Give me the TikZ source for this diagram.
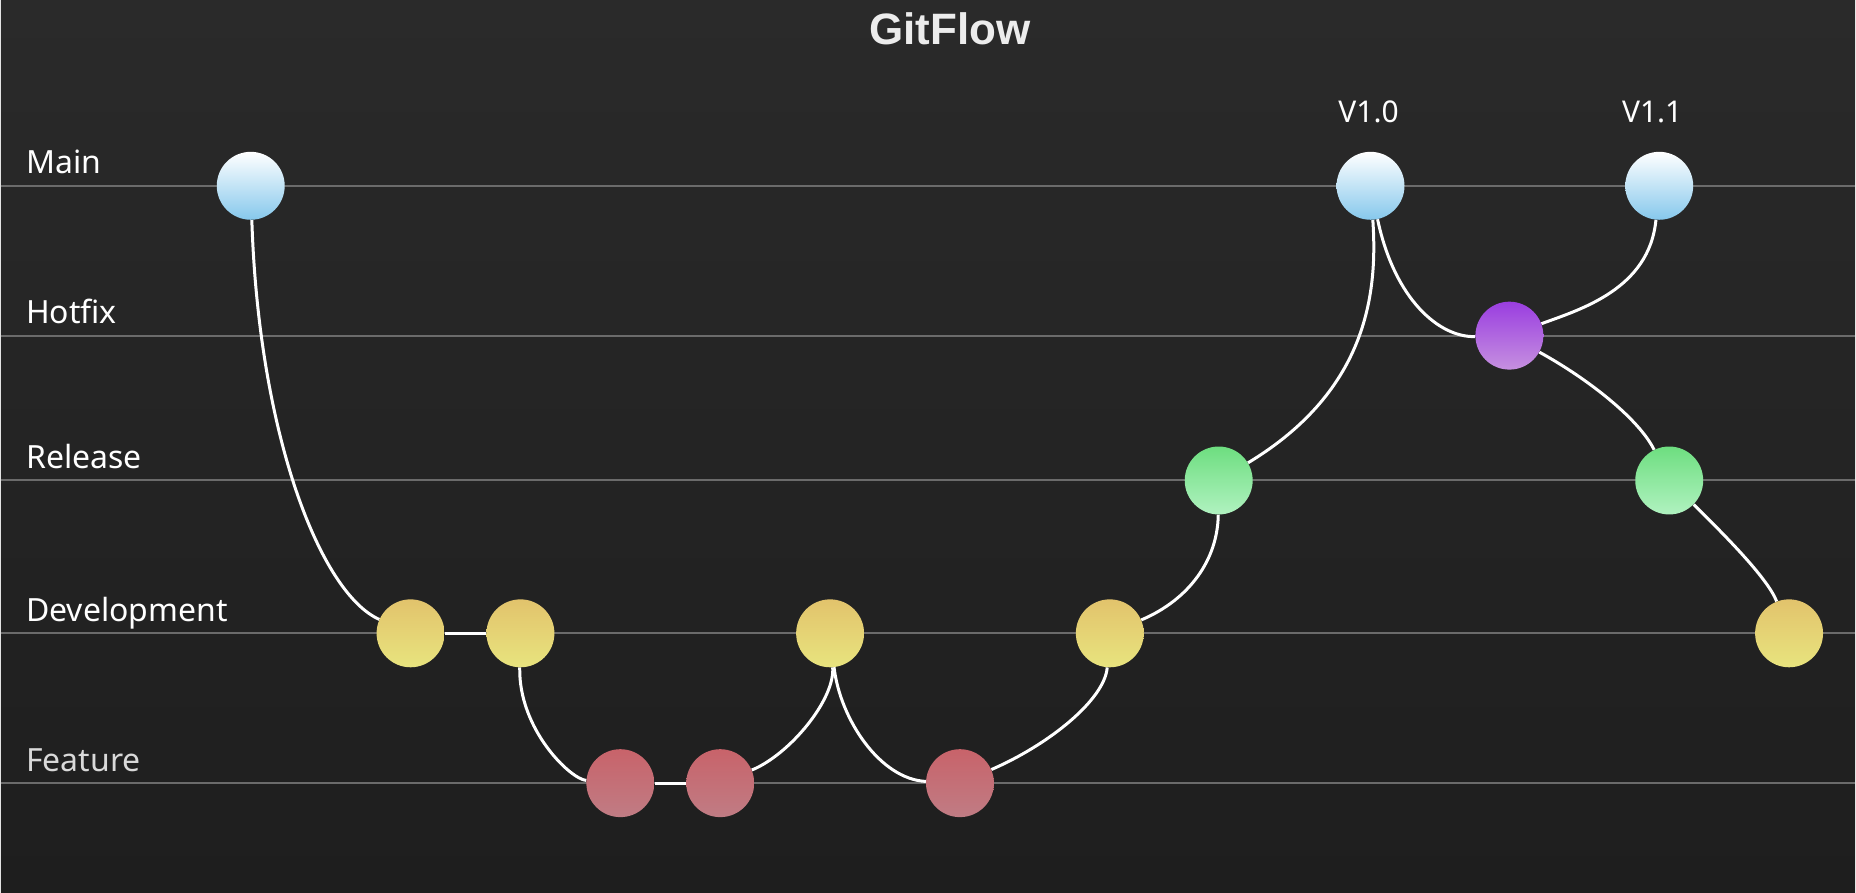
\documentclass[tikz,border=0pt]{standalone}
\usepackage{fontspec}
\setmainfont{Noto Sans}
\newfontfamily\titlefont{Liberation Sans}
\usetikzlibrary{calc}
\definecolor{bgtop}{HTML}{2A2A2A}
\definecolor{bgbot}{HTML}{1E1E1E}
\definecolor{lane}{HTML}{6B6B6B}
\pgfdeclarelayer{bg}
\pgfdeclarelayer{edges}
\pgfsetlayers{bg,edges,main}
\tikzset{%
  commit/.style   = {circle, minimum size=68pt, inner sep=0pt},%
  mainnode/.style = {commit, top color=white, bottom color={rgb,255:red,134;green,200;blue,236}},%
  hotnode/.style  = {commit, top color={rgb,255:red,154;green,62;blue,224}, bottom color={rgb,255:red,198;green,144;blue,224}},%
  relnode/.style  = {commit, top color={rgb,255:red,110;green,222;blue,128}, bottom color={rgb,255:red,176;green,242;blue,192}},%
  devnode/.style  = {commit, top color={rgb,255:red,226;green,195;blue,108}, bottom color={rgb,255:red,232;green,228;blue,126}},%
  featnode/.style = {commit, top color={rgb,255:red,200;green,99;blue,106}, bottom color={rgb,255:red,192;green,124;blue,132}},%
  branch/.style   = {draw=white, line width=3pt},%
  lanetext/.style = {anchor=base west, font=\fontsize{32}{36}\selectfont, inner sep=0pt},%
  tagtext/.style  = {anchor=base, text=white, font=\fontsize{30}{34}\selectfont, inner sep=0pt}%
}
\begin{document}
\begin{tikzpicture}[x=1pt, y=-1pt]
	\begin{pgfonlayer}{bg}
	\shade[top color=bgtop, bottom color=bgbot] (0,0) rectangle (1856,893);
	\foreach \y/\txt/\col in {186/Main/white,336/Hotfix/white,481/Release/white,634/Development/white,784/Feature/gray!30}{%
		\draw[lane, line width=2pt] (0,\y) -- (1856,\y);
		\node[lanetext, text=\col] at (25,\y-12) {\txt};
	}
	\end{pgfonlayer}
	\useasboundingbox (0,0) rectangle (1856,893);
	% title
	\node[anchor=base, text=gray!15, font=\titlefont\bfseries\fontsize{44}{50}\selectfont, inner sep=0pt] (title) at (950,45) {GitFlow};
	% commits
	\node[mainnode] (m1) at (250,186) {};
	\node[mainnode] (v10) at (1371,186) {};
	\node[mainnode] (v11) at (1660,186) {};
	\node[hotnode] (hx) at (1510,336) {};
	\node[relnode] (r1) at (1219,481) {};
	\node[relnode] (r2) at (1670,481) {};
	\node[devnode] (d1) at (410,634) {};
	\node[devnode] (d2) at (520,634) {};
	\node[devnode] (d3) at (830,634) {};
	\node[devnode] (d4) at (1110,634) {};
	\node[devnode] (d5) at (1790,634) {};
	\node[featnode] (f1) at (620,784) {};
	\node[featnode] (f2) at (720,784) {};
	\node[featnode] (f3) at (960,784) {};
	% tags
	\node[tagtext] (t10) at (1369,123) {V1.0};
	\node[tagtext] (t11) at (1653,123) {V1.1};
	% branches
	\begin{pgfonlayer}{edges}
	\draw[branch] (m1) .. controls +(8,250) and +(-90,-40) .. (d1);
	\draw[branch] (d1) -- (d2);
	\draw[branch] (d2) .. controls +(-2,96) and +(-50,-4) .. (f1);
	\draw[branch] (f1) -- (f2);
	\draw[branch] (f2) .. controls +(70,-29) and +(5,66) .. (d3);
	\draw[branch] (d3) .. controls +(10,86) and +(-80,-4) .. (f3);
	\draw[branch] (f3) .. controls +(90,-39) and +(-5,66) .. (d4);
	\draw[branch] (d4) .. controls +(80,-34) and +(-1,79) .. (r1);
	\draw[branch] (r1) .. controls +(151,-91) and +(7,104) .. (v10);
	\draw[branch] (v10) .. controls +(24,114) and +(-70,2) .. (hx);
	\draw[branch] (v11) .. controls +(-10,104) and +(70,-26) .. (hx);
	\draw[branch] (hx) .. controls +(80,44) and +(-30,-61) .. (r2);
	\draw[branch] (r2) .. controls +(60,59) and +(-21,-54) .. (d5);
	\end{pgfonlayer}
\end{tikzpicture}
\end{document}
